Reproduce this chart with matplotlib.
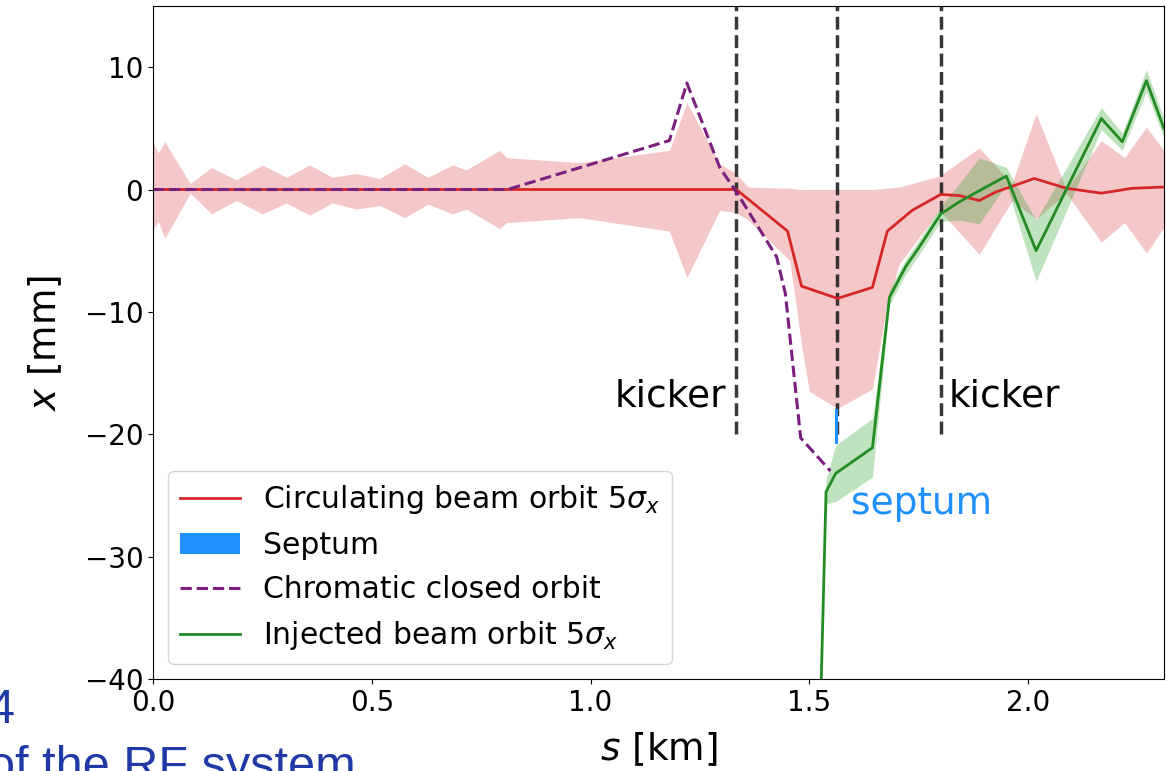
import matplotlib
matplotlib.use("Agg")
import matplotlib.pyplot as plt
import numpy as np

# circulating beam: orbit and 5 sigma envelope [km, mm]
s_orbit = [0.0, 1.333, 1.45, 1.482, 1.564, 1.644, 1.678, 1.735, 1.80, 1.843, 1.888,
           1.926, 2.014, 2.087, 2.167, 2.238, 2.31]
x_orbit = [0.0, 0.0, -3.4, -7.9, -8.9, -8.0, -3.4, -1.7, -0.4, -0.5, -0.9,
           -0.2, 0.9, 0.1, -0.3, 0.1, 0.2]

s_band = [0.0, 0.012, 0.027, 0.085, 0.134, 0.19, 0.25, 0.305, 0.358, 0.41, 0.465,
          0.518, 0.575, 0.628, 0.685, 0.716, 0.792, 0.808, 0.975, 1.18, 1.22,
          1.295, 1.333, 1.36, 1.455, 1.484, 1.50, 1.564, 1.644, 1.676, 1.705,
          1.797, 1.888, 1.963, 2.018, 2.087, 2.167, 2.22, 2.27, 2.31]
band_hi = [3.9, 3.0, 3.9, 0.5, 1.8, 0.8, 2.0, 1.0, 2.0, 1.0, 1.3,
           0.9, 2.1, 1.0, 2.0, 1.6, 3.2, 2.6, 2.2, 3.2, 7.1,
           2.1, 1.3, 0.2, 0.1, 0.0, 0.0, 0.0, 0.0, 0.1, 0.2,
           1.1, 3.4, 0.5, 6.2, 0.0, 4.0, 2.6, 5.1, 3.2]
band_lo = [-3.3, -2.6, -4.0, -0.3, -2.0, -0.9, -2.0, -1.1, -2.1, -1.1, -1.6,
           -1.3, -2.3, -1.2, -2.0, -1.6, -3.2, -2.7, -2.3, -3.4, -7.2,
           -1.7, -1.9, -2.5, -5.8, -13.2, -16.5, -17.9, -16.3, -9.7, -6.1,
           -1.7, -5.3, -0.9, -2.4, -0.3, -4.3, -2.7, -5.2, -3.1]

# chromatic closed orbit
s_chrom = [0.0, 0.81, 1.18, 1.22, 1.295, 1.335, 1.425, 1.445, 1.48, 1.548]
x_chrom = [0.0, 0.0, 4.0, 8.7, 1.8, -0.3, -5.5, -8.5, -20.3, -23.0]

# injected beam orbit and half width of its 5 sigma envelope
s_inj = [1.52, 1.538, 1.56, 1.644, 1.683, 1.72, 1.751, 1.80, 1.843, 1.888,
         1.95, 2.018, 2.167, 2.215, 2.27, 2.31]
x_inj = [-50.0, -24.7, -23.2, -21.1, -8.8, -6.3, -4.7, -2.0, -1.0, -0.1,
         1.1, -5.0, 5.8, 3.9, 8.9, 5.0]
w_inj = [0.3, 1.0, 2.3, 2.4, 0.6, 0.6, 0.6, 0.6, 1.5, 2.7,
         0.7, 2.5, 0.9, 0.7, 0.9, 0.8]

s_kickers = [1.333, 1.80]
s_septum = 1.562
septum_x = [-20.8, -17.9]

fig = plt.figure(figsize=(11.66, 7.71), dpi=100)
ax = fig.add_axes([0.1312, 0.1193, 0.867, 0.873])

ax.fill_between(s_band, band_lo, band_hi, color='C3', alpha=0.25, lw=0)
x_inj = np.array(x_inj)
w_inj = np.array(w_inj)
ax.fill_between(s_inj, x_inj - w_inj, x_inj + w_inj, color='C2', alpha=0.3, lw=0)

for sk in s_kickers + [s_septum]:
    ax.vlines(sk, -20, 15, colors='#222222', linestyles='--', lw=2.5, alpha=0.9)

ax.plot(s_orbit, x_orbit, color='C3', lw=2, label=r'Circulating beam orbit $5\sigma_x$')
ax.fill_betweenx(septum_x, s_septum - 0.003, s_septum + 0.003, color='dodgerblue',
                 lw=0, label='Septum', zorder=4)
ax.plot(s_chrom, x_chrom, color='#7a1f7f', ls='--', lw=2.2, label='Chromatic closed orbit')
ax.plot(s_inj, x_inj, color='forestgreen', lw=2, label=r'Injected beam orbit $5\sigma_x$')

ax.text(1.31, -17.7, 'kicker', fontsize=27, ha='right', va='baseline')
ax.text(1.818, -17.7, 'kicker', fontsize=27, ha='left', va='baseline')
ax.text(1.596, -26.5, 'septum', fontsize=27, color='dodgerblue', ha='left', va='baseline')

ax.set_xlim(0, 2.31)
ax.set_ylim(-40, 15)
ax.set_xticks([0.0, 0.5, 1.0, 1.5, 2.0])
ax.set_yticks([-40, -30, -20, -10, 0, 10])
ax.tick_params(labelsize=20)
ax.set_xlabel(r'$s$ [km]', fontsize=27, labelpad=10)
ax.set_ylabel(r'$x$ [mm]', fontsize=27, labelpad=15)
ax.legend(loc='lower left', fontsize=21.5)

# fragments of the slide behind the chart
fig.text(0.013, 0.0623, '4', fontsize=35, color='#1f3aa6', ha='right', va='baseline',
         family='Liberation Sans')
fig.text(-0.01, -0.0117, 'of the RF system', fontsize=35, color='#1f3aa6', ha='left',
         va='baseline', family='Liberation Sans')

fig.savefig('out.png', dpi=100)
